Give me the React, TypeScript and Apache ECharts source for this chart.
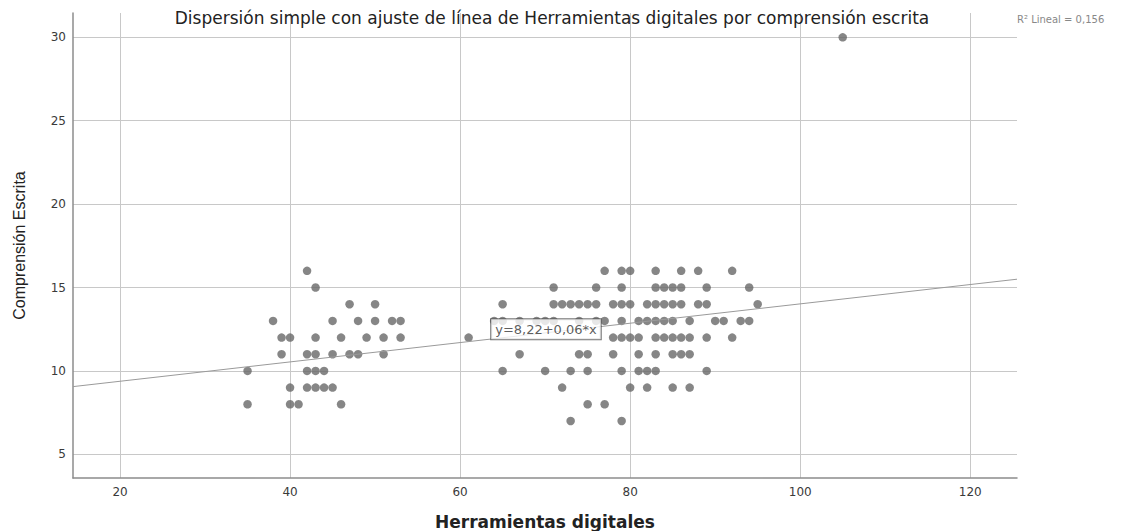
import React, { useEffect, useRef } from "react";
import * as echarts from "echarts";

// ---- Data ----
const X_TICKS = [20, 40, 60, 80, 100, 120];
const Y_TICKS = [5, 10, 15, 20, 25, 30];
const X_RANGE = [14.47, 125.5];
const Y_RANGE = [3.58, 31.46];

// Herramientas digitales (x) values for each Comprensión escrita (y) level
const X_AT_Y30 = [105];
const X_AT_Y16 = [42, 77, 79, 80, 83, 86, 88, 92];
const X_AT_Y15 = [43, 71, 76, 79, 83, 84, 85, 86, 89, 94];
const X_AT_Y14 = [47, 50, 65, 71, 72, 73, 74, 75, 76, 78, 79, 80, 82, 83, 84, 85, 86, 88, 89, 95];
const X_AT_Y13 = [38, 45, 48, 50, 52, 53, 64, 65, 67, 69, 70, 71, 74, 76, 77, 79, 81, 82, 83, 84, 85, 87, 90, 91, 93, 94];
const X_AT_Y12 = [39, 40, 43, 46, 49, 51, 53, 61, 78, 79, 80, 81, 83, 84, 85, 86, 87, 89, 92];
const X_AT_Y11 = [39, 42, 43, 45, 47, 48, 51, 67, 74, 75, 78, 81, 83, 85, 86, 87];
const X_AT_Y10 = [35, 42, 43, 44, 65, 70, 73, 75, 79, 81, 82, 83, 89];
const X_AT_Y9 = [40, 42, 43, 44, 45, 72, 80, 82, 85, 87];
const X_AT_Y8 = [35, 40, 41, 46, 75, 77];
const X_AT_Y7 = [73, 79];

const ROWS: [number, number[]][] = [
  [30, X_AT_Y30],
  [16, X_AT_Y16],
  [15, X_AT_Y15],
  [14, X_AT_Y14],
  [13, X_AT_Y13],
  [12, X_AT_Y12],
  [11, X_AT_Y11],
  [10, X_AT_Y10],
  [9, X_AT_Y9],
  [8, X_AT_Y8],
  [7, X_AT_Y7],
];

// Linear fit
const FIT_INTERCEPT = 8.22;
const FIT_SLOPE = 0.058;
const FIT_TEXT = "y=8,22+0,06*x";
const R2_TEXT = "R² Lineal = 0,156";
const EQ_LABEL_AT = [70.1, 12.5];

const TITLE = "Dispersión simple con ajuste de línea de Herramientas digitales por comprensión escrita";
const X_NAME = "Herramientas digitales";
const Y_NAME = "Comprensión Escrita";

export default function App() {
  const ref = useRef<HTMLDivElement>(null);

  useEffect(() => {
    document.body.style.margin = "0";
    if (!ref.current) return;
    const chart = echarts.init(ref.current, null, { renderer: "svg" });

    const points: number[][] = [];
    ROWS.forEach(([y, xs]) => xs.forEach((x) => points.push([x, y])));
    const fit = X_RANGE.map((x) => [x, FIT_INTERCEPT + FIT_SLOPE * x]);

    const tickLabel = { fontFamily: "DejaVu Sans", fontSize: 12, color: "#3a3a3a" };

    chart.setOption({
      animation: false,
      backgroundColor: "#ffffff",
      grid: {
        left: 73,
        right: 113,
        top: 13,
        bottom: 53,
        containLabel: false,
        outerBoundsMode: "none",
      },
      xAxis: {
        type: "value",
        min: X_RANGE[0],
        max: X_RANGE[1],
        name: X_NAME,
        nameLocation: "middle",
        nameGap: 35,
        nameTextStyle: { fontFamily: "DejaVu Sans", fontWeight: "bold", fontSize: 17, color: "#222" },
        axisLine: { show: true, onZero: false, lineStyle: { color: "#8c8c8c", width: 1.5 } },
        axisTick: { show: false, customValues: X_TICKS },
        axisLabel: { ...tickLabel, margin: 8, customValues: X_TICKS },
        splitLine: { show: true, lineStyle: { color: "#c8c8c8", width: 1 } },
      },
      yAxis: {
        type: "value",
        min: Y_RANGE[0],
        max: Y_RANGE[1],
        name: Y_NAME,
        nameLocation: "middle",
        nameRotate: 90,
        nameGap: 46,
        nameTextStyle: { fontFamily: "Liberation Sans", fontSize: 16, color: "#222" },
        axisLine: { show: true, onZero: false, lineStyle: { color: "#8c8c8c", width: 1.5 } },
        axisTick: { show: false, customValues: Y_TICKS },
        axisLabel: { ...tickLabel, margin: 7, customValues: Y_TICKS },
        splitLine: { show: true, lineStyle: { color: "#c8c8c8", width: 1 } },
      },
      graphic: [
        {
          type: "text",
          x: 552,
          y: 18,
          z: 100,
          style: {
            text: TITLE,
            font: '17px "DejaVu Sans"',
            fill: "#222",
            align: "center",
            verticalAlign: "middle",
          },
        },
        {
          type: "text",
          x: 1017,
          y: 19,
          z: 100,
          style: {
            text: R2_TEXT,
            font: '10px "DejaVu Sans"',
            fill: "#888",
            align: "left",
            verticalAlign: "middle",
          },
        },
      ],
      series: [
        {
          type: "scatter",
          data: points,
          symbol: "circle",
          symbolSize: 8.5,
          itemStyle: { color: "#686868" },
          z: 2,
          silent: true,
        },
        {
          type: "line",
          data: fit,
          showSymbol: false,
          symbol: "none",
          lineStyle: { color: "#9a9a9a", width: 1 },
          z: 3,
          silent: true,
        },
        {
          type: "scatter",
          data: [EQ_LABEL_AT],
          symbolSize: 1,
          itemStyle: { color: "rgba(0,0,0,0)" },
          z: 10,
          silent: true,
          label: {
            show: true,
            position: "inside",
            formatter: FIT_TEXT,
            fontFamily: "DejaVu Sans",
            fontSize: 13,
            color: "#333",
            backgroundColor: "#ffffff",
            borderColor: "#555",
            borderWidth: 1,
            padding: [4, 4, 3, 4],
          },
        },
      ],
    });

    return () => chart.dispose();
  }, []);

  return <div ref={ref} style={{ width: 1130, height: 531 }} />;
}
